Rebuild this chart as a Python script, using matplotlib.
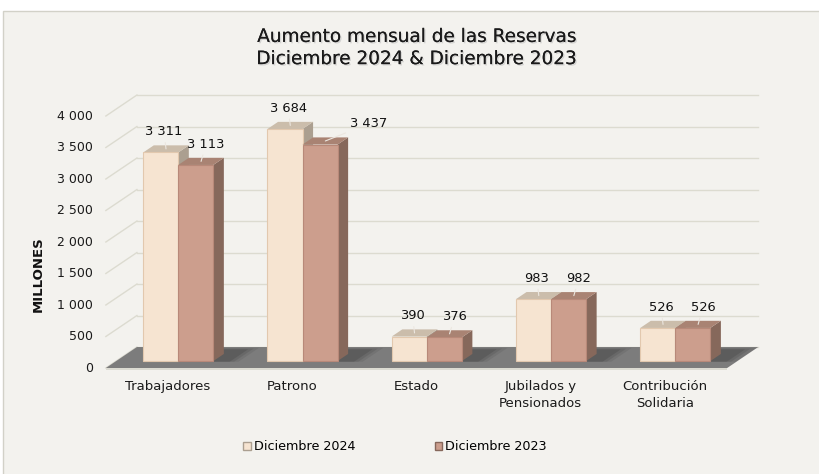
import matplotlib
matplotlib.use("Agg")
import matplotlib.pyplot as plt
import matplotlib.patheffects as pe
from matplotlib.patches import Polygon, Rectangle, Patch

# ---- data ----
categories = ["Trabajadores", "Patrono", "Estado",
              "Jubilados y\nPensionados", "Contribución\nSolidaria"]
series_names = ["Diciembre 2024", "Diciembre 2023"]
dic_2024 = [3311, 3684, 390, 983, 526]
dic_2023 = [3113, 3437, 376, 982, 526]
y_ticks = [0, 500, 1000, 1500, 2000, 2500, 3000, 3500, 4000]

# colours: front, top, side
col_2024 = ("#f6e4d1", "#cbbdab", "#ab9f90")
col_2023 = ("#cc9e8d", "#a98373", "#86685b")
edge_2024 = "#e2c8ae"
edge_2023 = "#b88979"
bg = "#f3f2ee"
grid_c = "#dcdbd0"

# fake-3d geometry (x in category units, y in value units)
DEPTH_X = 0.25      # offset of the back wall, category units
DEPTH_Y = 333       # offset of the back wall, value units
W = 0.282           # width of one bar
Z0, Z1 = 0.33, 0.67  # bar front/back depth fraction


def proj(x, y, z):
    return (x + z * DEPTH_X, y + z * DEPTH_Y)


def fmt(v):
    return f"{v:,}".replace(",", " ")


fig = plt.figure(figsize=(8.19, 4.74), dpi=100)
fig.patch.set_facecolor("white")
fig.patches.append(Rectangle((3 / 819, -0.01), 1.0, 1 - 11 / 474 + 0.01,
                             transform=fig.transFigure, facecolor=bg,
                             edgecolor="#d2d1c8", lw=1, zorder=-5))

ax = fig.add_axes([0, 0, 1, 1])
ax.set_facecolor("none")
ax.set_xlim(-1.352, 5.239)
ax.set_ylim(-1682.5, 5841.3)
ax.axis("off")

x_lo, x_hi = -0.5, len(categories) - 0.5

# gridlines on back wall + left wall diagonals
for v in y_ticks:
    ax.plot(*zip(proj(x_lo, v, 1), proj(x_hi, v, 1)), color=grid_c, lw=1, zorder=1)
    ax.plot(*zip(proj(x_lo, v, 0), proj(x_lo, v, 1)), color=grid_c, lw=1, zorder=1)
    ax.annotate(fmt(v), proj(x_lo, v, 0), xytext=(-13, 0), textcoords="offset pixels",
                ha="right", va="center", fontsize=9, color="#1a1a1a")

# floor
floor = [proj(x_lo, 0, 0), proj(x_hi, 0, 0), proj(x_hi, 0, 1), proj(x_lo, 0, 1)]
ax.add_patch(Polygon(floor, closed=True, facecolor="#7c7c7c", edgecolor="none", zorder=2))
ax.add_patch(Polygon([proj(x_lo, 0, 0), proj(x_hi, 0, 0), proj(x_hi, -35, 0), proj(x_lo, -35, 0)],
                     closed=True, facecolor="#dcdbd2", edgecolor="none", zorder=2))

# bars
for i in range(len(categories)):
    # soft shadow on the floor, heavier on the right of the pair
    sx0, sx1 = i - W + 0.05, i + W + 0.14
    for grow, a in [(0.07, 0.12), (0.035, 0.16), (0.0, 0.22)]:
        ax.add_patch(Polygon([proj(sx0 + grow, 0, Z0 - 0.03), proj(sx1 + grow, 0, Z0 - 0.03),
                              proj(sx1 + grow, 0, min(1, Z1 + 0.22 + grow)),
                              proj(sx0 + grow, 0, min(1, Z1 + 0.22 + grow))],
                             closed=True, facecolor="#333333", alpha=a,
                             edgecolor="none", zorder=2.5))
    for s, (vals, cols, ec) in enumerate([(dic_2024, col_2024, edge_2024),
                                          (dic_2023, col_2023, edge_2023)]):
        v = vals[i]
        x0 = i - W + s * W
        x1 = x0 + W
        zo = 3 + s
        front = [proj(x0, 0, Z0), proj(x1, 0, Z0), proj(x1, v, Z0), proj(x0, v, Z0)]
        top = [proj(x0, v, Z0), proj(x1, v, Z0), proj(x1, v, Z1), proj(x0, v, Z1)]
        side = [proj(x1, 0, Z0), proj(x1, v, Z0), proj(x1, v, Z1), proj(x1, 0, Z1)]
        ax.add_patch(Polygon(side, closed=True, facecolor=cols[2], edgecolor="none", zorder=zo))
        ax.add_patch(Polygon(top, closed=True, facecolor=cols[1], edgecolor="none", zorder=zo))
        ax.add_patch(Polygon(front, closed=True, facecolor=cols[0], edgecolor=ec,
                             lw=0.8, zorder=zo + 0.1))

        # data label with a short leader line
        dx = 3 if s == 0 else 10
        if s == 1 and i == 1:
            dx = 48
        ax.annotate(fmt(v), proj((x0 + x1) / 2, v, (Z0 + Z1) / 2),
                    xytext=(dx - 5, 17), textcoords="offset pixels",
                    ha="center", va="center", fontsize=9.4, color="#111111",
                    arrowprops=dict(arrowstyle="-", color="#ece7e0", lw=0.8,
                                    shrinkA=1, shrinkB=0),
                    zorder=10)

# category labels
for i, name in enumerate(categories):
    ax.annotate(name, (i, 0), xytext=(0, -12), textcoords="offset pixels",
                ha="center", va="top", fontsize=9.5, linespacing=1.35, color="#1a1a1a")

# title
fig.text(417 / 819, 1 - 48 / 474,
         "Aumento mensual de las Reservas\nDiciembre 2024 & Diciembre 2023",
         ha="center", va="center", fontsize=13.3, linespacing=1.3, color="#1a1a1a",
         path_effects=[pe.withSimplePatchShadow(offset=(1.0, -1.0),
                                                shadow_rgbFace="#b0b0b0", alpha=0.45),
                       pe.Normal()])

fig.text(38 / 819, 1 - 274 / 474, "MILLONES", rotation=90, ha="center", va="center",
         fontsize=9.5, fontweight="bold", color="#111111")

# legend
handles = [Patch(facecolor=col_2024[0], edgecolor=col_2024[2], lw=1),
           Patch(facecolor=col_2023[0], edgecolor=col_2023[2], lw=1)]
fig.legend(handles, series_names, loc="center", bbox_to_anchor=(395 / 819, 1 - 447 / 474),
           ncol=2, frameon=False, fontsize=9.2, handlelength=0.6, handleheight=0.6,
           handletextpad=0.25, columnspacing=6.2)

fig.savefig("out.png", dpi=100, facecolor=fig.get_facecolor())
